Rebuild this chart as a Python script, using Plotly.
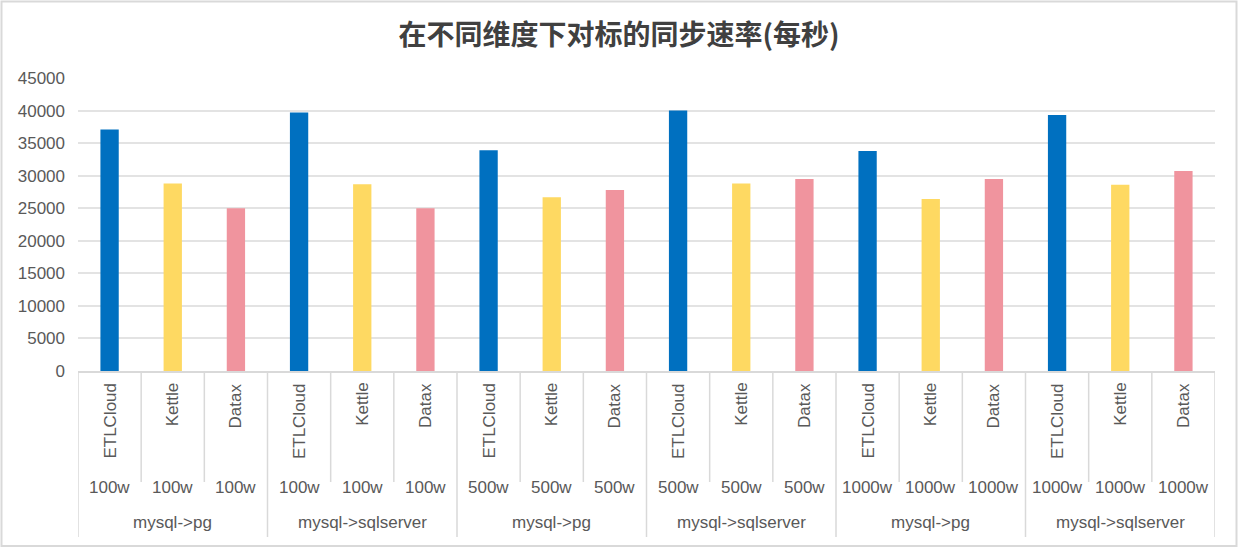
import plotly.graph_objects as go

# ---- data ----
tools = ["ETLCloud", "Kettle", "Datax"]
sizes = ["100w", "100w", "500w", "500w", "1000w", "1000w"]
routes = ["mysql->pg", "mysql->sqlserver", "mysql->pg", "mysql->sqlserver", "mysql->pg", "mysql->sqlserver"]
etlcloud = [37100, 39700, 33900, 40000, 33800, 39300]
kettle = [28800, 28700, 26700, 28800, 26400, 28600]
datax = [25000, 25000, 27800, 29500, 29500, 30700]
series = [etlcloud, kettle, datax]
colors = ["#0070C0", "#FED962", "#F0949E"]
title = "在不同维度下对标的同步速率(每秒)"

W, H = 1238, 548
ML, MR, MT, MB = 78, 23, 78, 177
PH = H - MT - MB  # plot height in px
LAT = "Liberation Sans, Arial, Helvetica, sans-serif"
TXT = "#595959"
LINE = "#d9d9d9"

def py(px_y):
    """pixel y -> paper y"""
    return (H - MB - px_y) / PH

nT = len(tools)
nG = len(sizes)

fig = go.Figure()
for t, (name, vals, col) in enumerate(zip(tools, series, colors)):
    xs = [g * nT + t for g in range(nG)]
    fig.add_trace(go.Bar(x=xs, y=vals, name=name, marker_color=col,
                         marker_line_width=0, width=0.29, showlegend=False,
                         hovertemplate="%{y}<extra>" + name + "</extra>"))

annotations = []
shapes = []
for g in range(nG):
    for t in range(nT):
        i = g * nT + t
        annotations.append(dict(x=i, y=py(381), xref="x", yref="paper", text=tools[t],
                                textangle=-90, yanchor="top", xanchor="center", showarrow=False,
                                font=dict(family=LAT, size=17, color=TXT)))
        annotations.append(dict(x=i, y=py(487), xref="x", yref="paper", text=sizes[g],
                                yanchor="middle", xanchor="center", showarrow=False,
                                font=dict(family=LAT, size=17, color=TXT)))
    annotations.append(dict(x=g * nT + (nT - 1) / 2, y=py(522), xref="x", yref="paper", text=routes[g],
                            yanchor="middle", xanchor="center", showarrow=False,
                            font=dict(family=LAT, size=17, color=TXT)))

n = nT * nG
for k in range(n + 1):
    full = (k % nT == 0)
    shapes.append(dict(type="line", xref="x", yref="paper", x0=k - 0.5, x1=k - 0.5,
                       y0=0, y1=py(537) if full else py(482),
                       line=dict(color=LINE, width=1.5)))

# outer chart border
shapes.append(dict(type="rect", xref="paper", yref="paper",
                   x0=(1.5 - ML) / (W - ML - MR), x1=(W - 1.5 - ML) / (W - ML - MR),
                   y0=py(H - 2), y1=py(1.5),
                   line=dict(color=LINE, width=2)))

fig.update_layout(
    width=W, height=H,
    margin=dict(l=ML, r=MR, t=MT, b=MB, pad=0),
    paper_bgcolor="white", plot_bgcolor="white",
    barmode="overlay",
    title=dict(text=title, x=0.5, xanchor="center", y=1 - 35 / H, yanchor="middle",
               font=dict(family="Noto Sans CJK SC", size=28, color="#404040", weight="bold")),
    xaxis=dict(range=[-0.5, n - 0.5], showticklabels=False, showgrid=False, zeroline=False,
               showline=True, linecolor=LINE, linewidth=1.5, fixedrange=True),
    yaxis=dict(range=[0, 45000], dtick=5000, showgrid=True, gridcolor="#e3e3e3", gridwidth=1.5,
               zeroline=False, showline=False, ticks="", ticklabelstandoff=12,
               tickfont=dict(family=LAT, size=17, color=TXT), tickformat="d"),
    annotations=annotations,
    shapes=shapes,
)

fig.write_html("out.html", config={"displayModeBar": False},
               post_script="document.body.style.margin='0';document.body.style.overflow='hidden';")
